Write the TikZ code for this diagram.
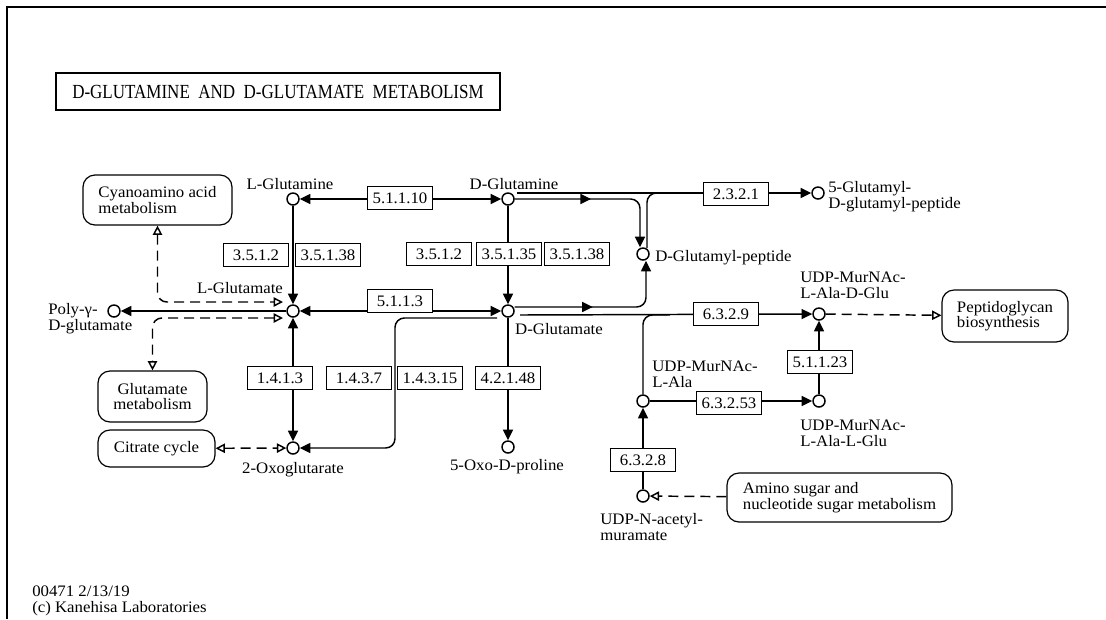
\documentclass[tikz,border=0pt]{standalone}
\usepackage{fontspec}
\setmainfont{Liberation Serif}[FakeStretch=1.05]
\newfontfamily\titlefont{Liberation Serif}[FakeStretch=0.85]
\usetikzlibrary{arrows.meta,calc,decorations.markings}
\tikzset{
  tri/.tip={Triangle[length=8pt,width=7.5pt]},
  otri/.tip={Triangle[open,length=7pt,width=7pt]},
  cpd/.style={circle,draw,line width=1.1pt,fill=white,minimum size=9pt,inner sep=0pt},
  enz/.style={rectangle,draw,line width=0.9pt,fill=white,minimum width=49pt,minimum height=17pt,inner sep=0pt},
  pmap/.style={rectangle,rounded corners=9pt,draw,line width=0.9pt,align=left,inner sep=0pt},
  lbl/.style={inner sep=0pt,align=left},
  rxn/.style={line width=1.1pt},
  lnk/.style={line width=1.1pt,dash pattern=on 7.5pt off 4.5pt},
  midarr/.style={postaction={decorate},decoration={markings,mark=at position #1 with {\arrow{tri}}}}
}
\begin{document}
\begin{tikzpicture}[x=0.75pt,y=-0.75pt,font=\fontsize{12}{11.5}\selectfont]
\useasboundingbox (0,0) rectangle (1106,619);
% frame and title
\draw[line width=1.5pt] (7,619) -- (7,7) -- (1106,7);
\node[draw,line width=1.5pt,minimum width=333pt,minimum height=27.75pt,font=\titlefont\fontsize{15}{16}\selectfont] (title) at (278,91.5) {D-GLUTAMINE\ \ AND\ \ D-GLUTAMATE\ \ METABOLISM};
% compounds
\node[cpd] (lgln) at (293,199) {};
\node[cpd] (dgln) at (508,199) {};
\node[cpd] (lglu) at (293,311) {};
\node[cpd] (dglu) at (508,311) {};
\node[cpd] (dgp) at (643,254) {};
\node[cpd] (gdgp) at (818,193) {};
\node[cpd] (poly) at (114,311) {};
\node[cpd] (oxo) at (293,448) {};
\node[cpd] (oxopro) at (508,447) {};
\node[cpd] (murd) at (819,314) {};
\node[cpd] (murl) at (819,401) {};
\node[cpd] (mura) at (643,401) {};
\node[cpd] (udpn) at (643,496) {};
% compound names (base = last line)
\node[lbl,anchor=base] (tlgln) at (290,189) {L-Glutamine};
\node[lbl,anchor=base] (tdgln) at (514,189) {D-Glutamine};
\node[lbl,anchor=base] (tlglu) at (240,293) {L-Glutamate};
\node[lbl,anchor=base] (tdglu) at (559,334) {D-Glutamate};
\node[lbl,anchor=base west] (tdgp) at (655,261) {D-Glutamyl-peptide};
\node[lbl,anchor=base west] (tgdgp) at (828,208) {5-Glutamyl-\\D-glutamyl-peptide};
\node[lbl,anchor=base west] (tpoly) at (48,330) {Poly-γ-\\D-glutamate};
\node[lbl,anchor=base] (toxo) at (293,473) {2-Oxoglutarate};
\node[lbl,anchor=base] (toxopro) at (507,470) {5-Oxo-D-proline};
\node[lbl,anchor=base west] (tmurd) at (800,298) {UDP-MurNAc-\\L-Ala-D-Glu};
\node[lbl,anchor=base west] (tmurl) at (800,446) {UDP-MurNAc-\\L-Ala-L-Glu};
\node[lbl,anchor=base west] (tmura) at (652,387) {UDP-MurNAc-\\L-Ala};
\node[lbl,anchor=base west] (tudpn) at (600,540) {UDP-N-acetyl-\\muramate};
% pathway maps
\node[pmap,minimum width=111.75pt,minimum height=37.5pt] (cyano) at (157.5,200) {Cyanoamino acid\\metabolism};
\node[pmap,align=center,minimum width=81.75pt,minimum height=38.25pt] (glum) at (152.5,396.5) {Glutamate\\metabolism};
\node[pmap,minimum width=87.75pt,minimum height=27.75pt] (citr) at (156.5,448.5) {Citrate cycle};
\node[pmap,minimum width=94.5pt,minimum height=39pt] (pgb) at (1005,316) {Peptidoglycan\\biosynthesis};
\node[pmap,minimum width=168.75pt,minimum height=36.75pt] (amino) at (839.5,497.5) {Amino sugar and\\nucleotide sugar metabolism};
% reactions
\draw[rxn,tri-tri] (lgln) -- (dgln);
\draw[rxn,-tri] (lgln) -- (lglu);
\draw[rxn,-tri] (dgln) -- (dglu);
\draw[rxn,tri-tri] (lglu) -- (dglu);
\draw[rxn,-tri] (lglu) -- (poly);
\draw[rxn,tri-tri] (lglu) -- (oxo);
\draw[rxn,-tri] (dglu) -- (oxopro);
\coordinate (kink) at (395,448);
\draw[rxn,-tri,rounded corners=7pt] ($(dglu)+(-11,7)$) -| (kink) -- (oxo);
% D-glutamyl-peptide
\draw[rxn,midarr=0.45,-tri,rounded corners=7pt] (dgln) -| ($(dgp.north)+(-3,0)$);
\draw[rxn,midarr=0.45,-tri,rounded corners=7pt] ($(dglu.east)+(0,-4)$) -| ($(dgp.south)+(3,0)$);
\draw[rxn,-tri] ($(dgln)+(9,-6)$) -- (gdgp);
\coordinate (j2321) at (670,193);
\draw[rxn,rounded corners=7pt] ($(dgp)+(4,-6)$) |- (j2321);
% peptidoglycan precursors
\draw[rxn,-tri] ($(dglu)+(12,4)$) -- (murd);
\coordinate (j6329) at (670,315);
\draw[rxn,rounded corners=7pt] (mura) |- (j6329);
\draw[rxn,-tri] (murl) -- (murd);
\draw[rxn,-tri] (mura) -- (murl);
\draw[rxn,-tri] (udpn) -- (mura);
% links to other maps
\draw[lnk,otri-otri,rounded corners=7pt] (cyano) |- ($(lglu)+(-10,-9)$);
\draw[lnk,otri-otri,rounded corners=7pt] ($(lglu)+(-10,7)$) -| (glum);
\draw[lnk,otri-otri] (citr) -- (oxo);
\draw[lnk,-otri] (murd) -- (pgb);
\draw[lnk,-otri] (amino) -- (udpn);
% enzymes
\node[enz] (e51110) at (400,198) {5.1.1.10};
\node[enz] (e5113) at (400,301) {5.1.1.3};
\node[enz] (e3512a) at (256,255) {3.5.1.2};
\node[enz] (e35138a) at (328,255) {3.5.1.38};
\node[enz] (e3512b) at (439,254) {3.5.1.2};
\node[enz] (e35135) at (509,254) {3.5.1.35};
\node[enz] (e35138b) at (577,254) {3.5.1.38};
\node[enz] (e1413) at (280,378) {1.4.1.3};
\node[enz] (e1437) at (359,378) {1.4.3.7};
\node[enz] (e14315) at (430,378) {1.4.3.15};
\node[enz] (e42148) at (508,378) {4.2.1.48};
\node[enz] (e2321) at (736,194) {2.3.2.1};
\node[enz] (e6329) at (726,314) {6.3.2.9};
\node[enz] (e51123) at (820,362) {5.1.1.23};
\node[enz] (e63253) at (729,403) {6.3.2.53};
\node[enz] (e6328) at (643,460) {6.3.2.8};
% footer
\node[lbl,anchor=base west] (tver) at (32,612) {00471 2/13/19\\(c) Kanehisa Laboratories};
\end{tikzpicture}
\end{document}
